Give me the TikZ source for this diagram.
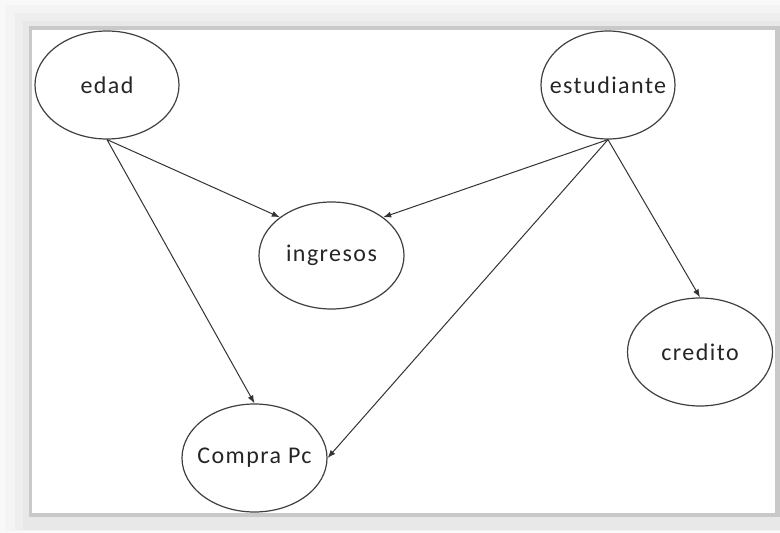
\documentclass[tikz,border=0pt]{standalone}
\usepackage{fontspec}
\setmainfont[LetterSpace=6]{Carlito}
\usetikzlibrary{shapes.geometric,arrows.meta}

\begin{document}
\begin{tikzpicture}[x=0.5pt, y=-0.5pt,
    var/.style={ellipse, draw=black!75, line width=0.6pt, inner sep=0pt, inner xsep=-8pt,
        font=\fontsize{12}{14}\selectfont, text=black!85},
    link/.style={draw=black!80, line width=0.5pt, -{Latex[length=4pt,width=3pt]}}]
    \useasboundingbox (0,0) rectangle (780,533);
    % Frame with shadow
    \fill[gray!5] (0,0) rectangle (780,533);
    \fill[gray!9] (5,5) rectangle (780,531);
    \fill[gray!13] (15,13) rectangle (780,530);
    \fill[gray!18] (23,21) rectangle (780,530);
    \fill[gray!42] (29,26) rectangle (780,517);
    \fill[white] (32,30) rectangle (775,513);

    % Variables
    \node[var, minimum width=72pt, minimum height=54pt] (edad) at (107,85) {edad};
    \node[var, minimum width=67pt, minimum height=54pt] (estudiante) at (608,85) {estudiante};
    \node[var, minimum width=72.5pt, minimum height=53.5pt] (ingresos) at (331.5,255.5) {ingresos};
    \node[var, minimum width=72.5pt, minimum height=54pt] (credito) at (700,352) {credito};
    \node[var, minimum width=72.5pt, minimum height=54pt] (compra) at (254.5,458) {Compra Pc};

    % Dependencies
    \draw[link] (edad.south) -- (ingresos.north west);
    \draw[link] (edad.south) -- (compra.north);
    \draw[link] (estudiante.south) -- (ingresos.north east);
    \draw[link] (estudiante.south) -- (compra.east);
    \draw[link] (estudiante.south) -- (credito.north);
\end{tikzpicture}
\end{document}
